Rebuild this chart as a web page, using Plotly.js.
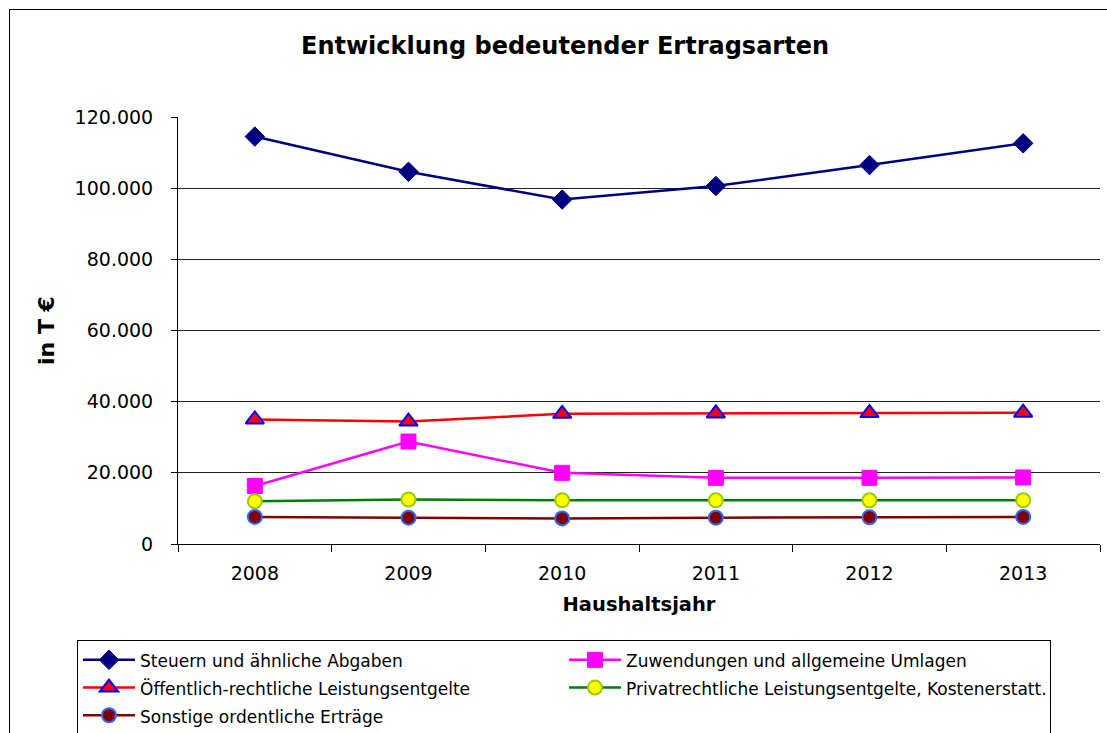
<!DOCTYPE html>
<html>
<head>
<meta charset="utf-8">
<script src="https://cdn.plot.ly/plotly-3.0.1.min.js"></script>
<style>
  html, body { margin: 0; padding: 0; background: #fff; }
  #frame { position: absolute; left: 9px; top: 9px; width: 1200px; height: 800px; border: 1px solid #000; pointer-events: none; }
  #chart { position: absolute; left: 0; top: 0; width: 1107px; height: 733px; }
</style>
</head>
<body>
<div id="chart"></div>
<div id="frame"></div>
<script>
const years = ['2008', '2009', '2010', '2011', '2012', '2013'];
const seriesNames = [
  'Steuern und ähnliche Abgaben',
  'Zuwendungen und allgemeine Umlagen',
  'Öffentlich-rechtliche Leistungsentgelte',
  'Privatrechtliche Leistungsentgelte, Kostenerstatt.',
  'Sonstige ordentliche Erträge'
];
const steuern = [114500, 104600, 96800, 100600, 106500, 112600];
const zuwendungen = [16300, 28800, 20000, 18600, 18600, 18700];
const oeffentlich = [35000, 34400, 36600, 36700, 36800, 36900];
const privat = [12000, 12500, 12300, 12300, 12300, 12300];
const sonstige = [7600, 7400, 7200, 7400, 7500, 7600];
const yTicks = [0, 20000, 40000, 60000, 80000, 100000, 120000];

const legName = n => '<span style="font-size:17px">' + n + '</span>';

const traces = [
  { name: legName(seriesNames[0]), x: years, y: steuern, mode: 'lines+markers',
    line: { color: '#000080', width: 2.5 },
    marker: { symbol: 'diamond', size: 15, color: '#000080', line: { color: '#000080', width: 1 } } },
  { name: legName(seriesNames[1]), x: years, y: zuwendungen, mode: 'lines+markers',
    line: { color: '#FF00FF', width: 2.5 },
    marker: { symbol: 'square', size: 15, color: '#FF00FF', line: { color: '#FF00FF', width: 1 } } },
  { name: legName(seriesNames[2]), x: years, y: oeffentlich, mode: 'lines+markers',
    line: { color: '#FF0000', width: 2.5 },
    marker: { symbol: 'triangle-up', size: 16, color: '#FF0000', line: { color: '#0000FF', width: 2 } } },
  { name: legName(seriesNames[3]), x: years, y: privat, mode: 'lines+markers',
    line: { color: '#008000', width: 2.5 },
    marker: { symbol: 'circle', size: 14, color: '#FFFF00', line: { color: '#99CC00', width: 2 } } },
  { name: legName(seriesNames[4]), x: years, y: sonstige, mode: 'lines+markers',
    line: { color: '#800000', width: 2.5 },
    marker: { symbol: 'circle', size: 14, color: '#800000', line: { color: '#3366FF', width: 2 } } }
];

const layout = {
  width: 1107, height: 733,
  margin: { l: 178, r: 7, t: 117, b: 189, autoexpand: false },
  paper_bgcolor: '#fff', plot_bgcolor: '#fff',
  separators: ',.',
  font: { family: 'DejaVu Sans, Verdana, sans-serif', color: '#000', size: 19 },
  title: { text: '<b>Entwicklung bedeutender Ertragsarten</b>', x: 565 / 1107, xref: 'container', xanchor: 'center',
           y: 1 - 46 / 733, yref: 'container', yanchor: 'middle', font: { size: 24, color: '#000' } },
  xaxis: {
    type: 'category', range: [-0.5, 5.5], tickson: 'boundaries', ticks: 'outside', ticklen: 7, tickcolor: '#000',
    showline: true, linecolor: '#000', linewidth: 1, showgrid: false, zeroline: false,
    tickfont: { size: 19 }, ticklabelstandoff: 12,
    title: { text: '<b>Haushaltsjahr</b>', font: { size: 19.5 }, standoff: 14 }
  },
  yaxis: {
    range: [0, 120000], tickvals: yTicks, tickformat: ',d', ticks: 'outside', ticklen: 6, tickcolor: '#000',
    showline: true, linecolor: '#000', linewidth: 1, showgrid: true, gridcolor: '#222', gridwidth: 1, zeroline: false,
    tickfont: { size: 19 }, ticklabelstandoff: 14,
    title: { text: '<b>in T €</b>', font: { size: 22 }, standoff: 13 }
  },
  showlegend: true,
  legend: {
    orientation: 'h', x: (77 - 178) / 922, xanchor: 'left', y: (544 - 640) / 427, yanchor: 'top',
    entrywidth: 419, entrywidthmode: 'pixels', traceorder: 'normal', itemwidth: 52,
    bordercolor: '#000', borderwidth: 1, bgcolor: '#fff',
    font: { size: 19, color: '#000' }
  }
};

Plotly.newPlot('chart', traces, layout, { displayModeBar: false, staticPlot: true });
</script>
</body>
</html>
